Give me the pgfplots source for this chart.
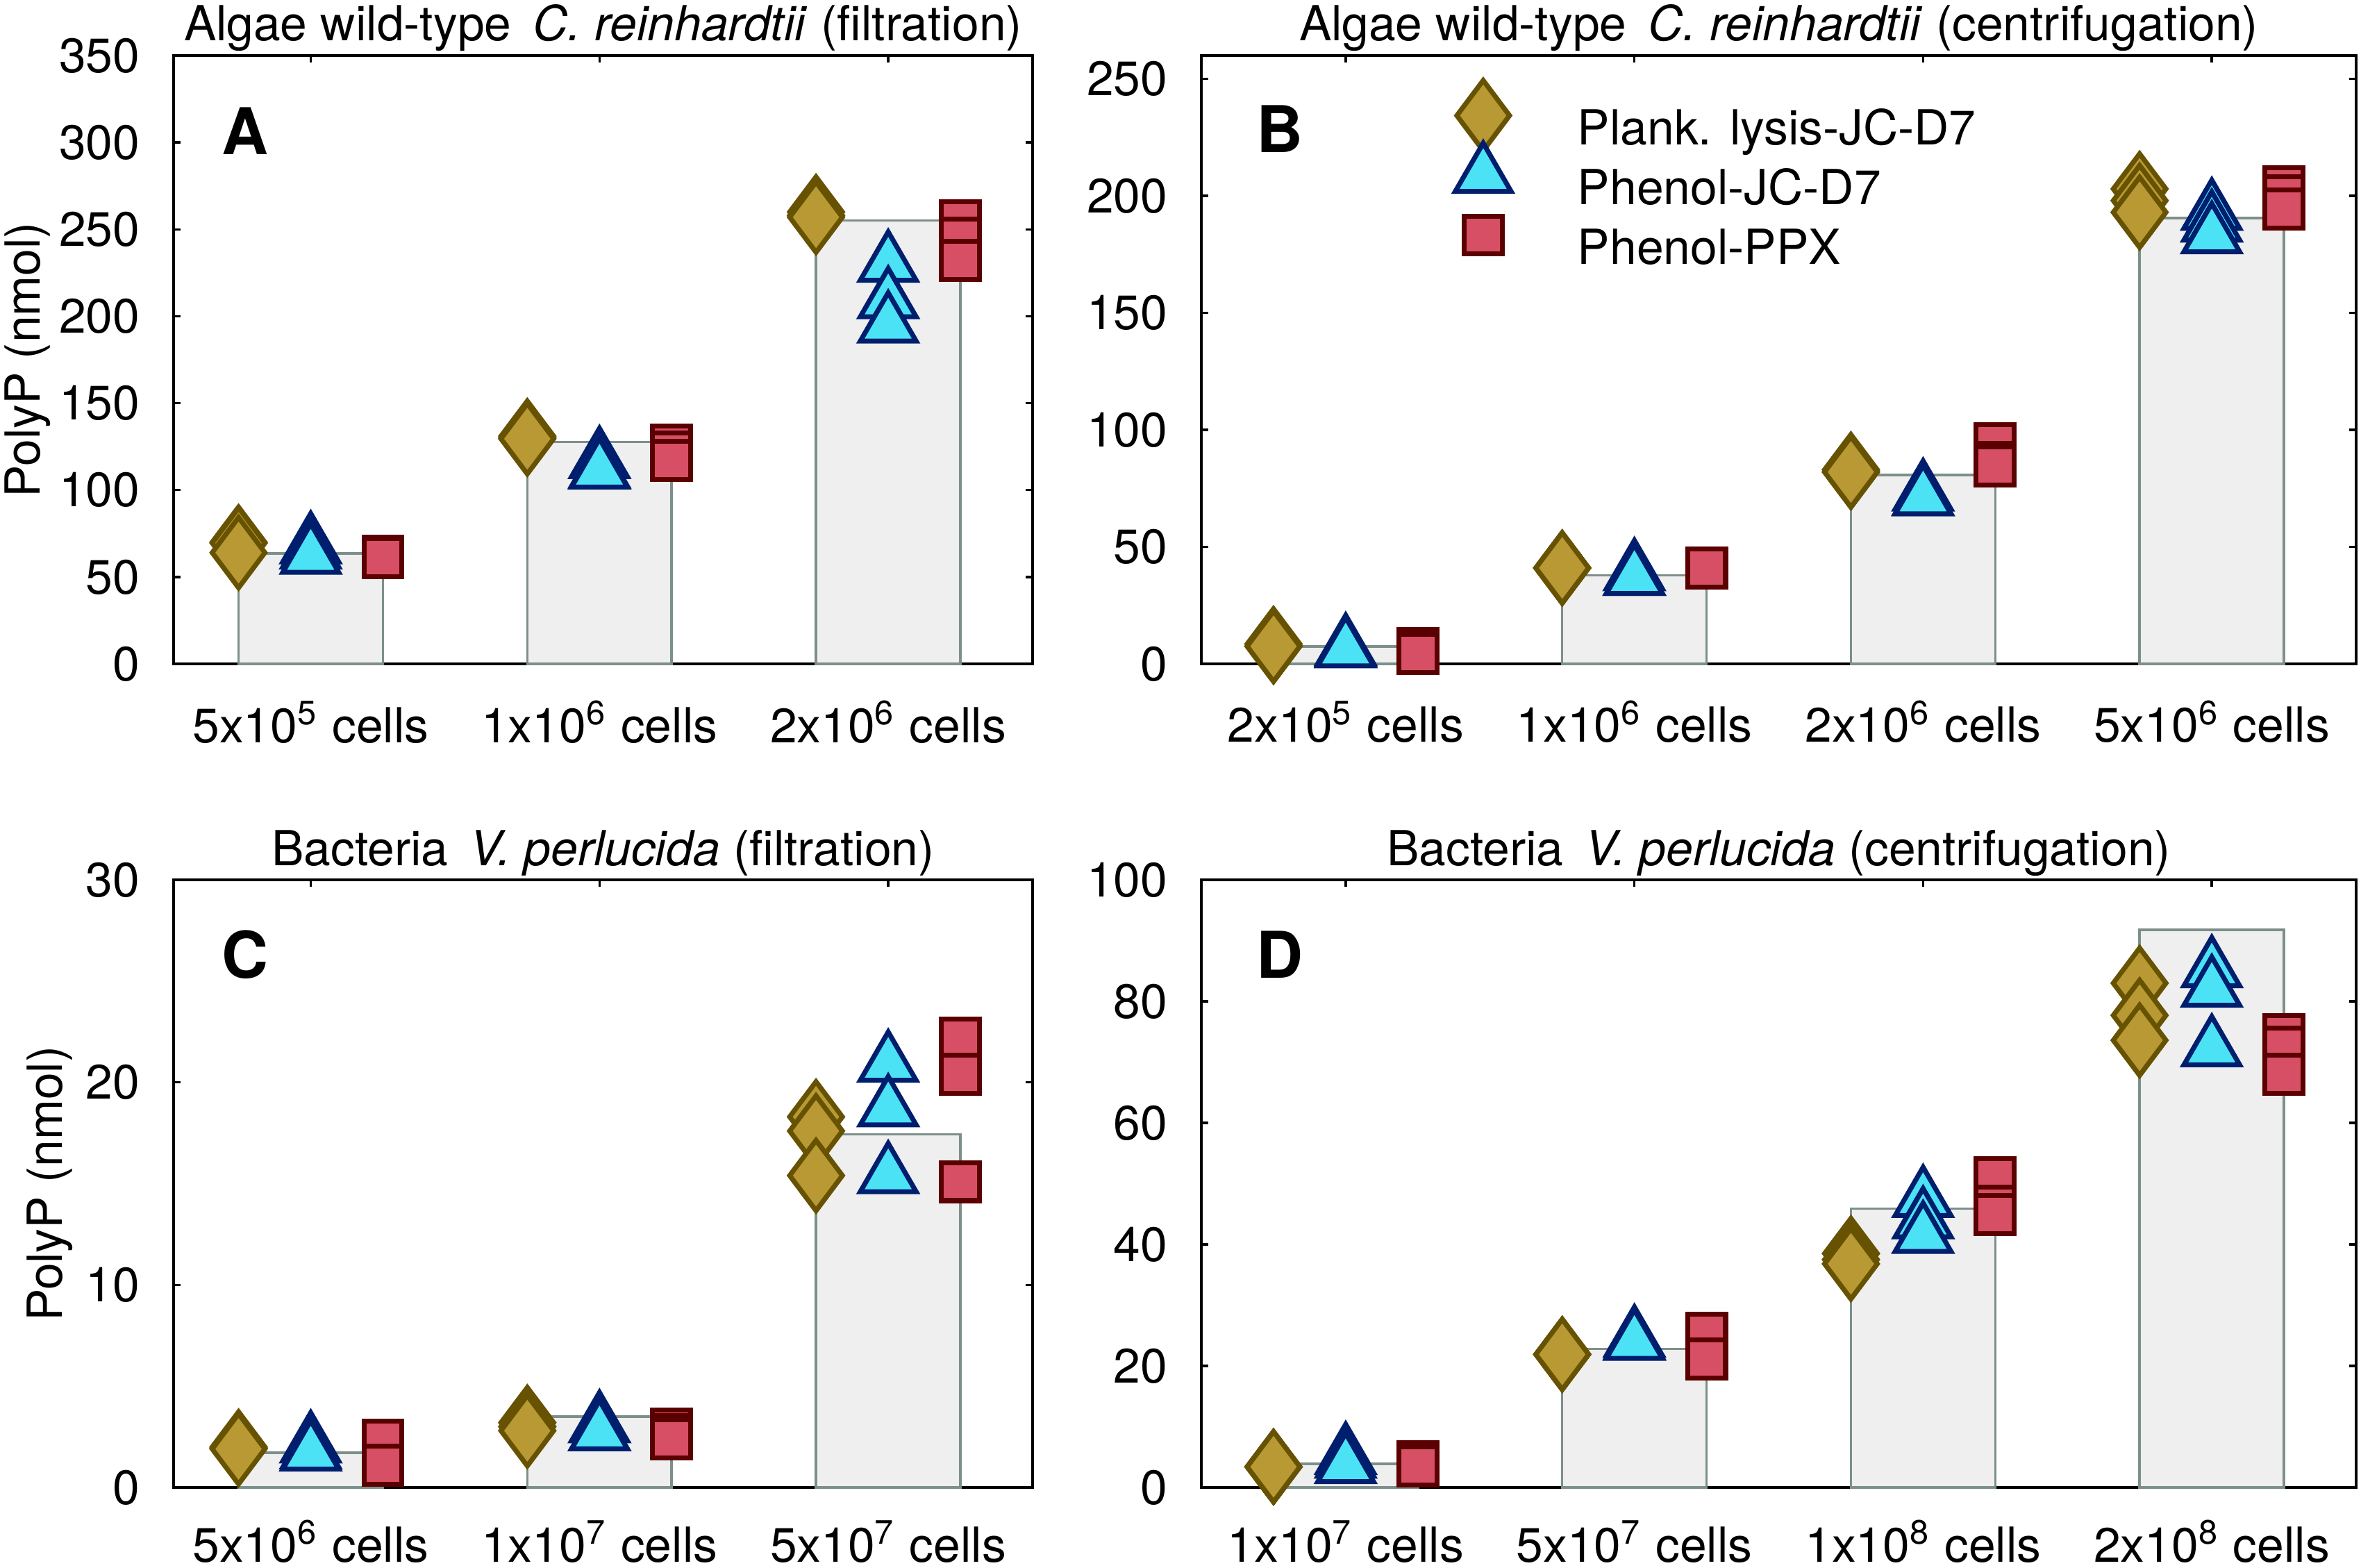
\documentclass[border=0pt]{standalone}
\usepackage{fontspec}
\setmainfont{TeX Gyre Heros}
\usepackage{pgfplots}
\pgfplotsset{compat=1.18}
\definecolor{dfill}{RGB}{184,153,52}
\definecolor{dedge}{RGB}{102,82,0}
\definecolor{tfill}{RGB}{75,226,245}
\definecolor{tedge}{RGB}{0,30,110}
\definecolor{sfill}{RGB}{214,79,101}
\definecolor{sedge}{RGB}{90,0,0}
\definecolor{barfill}{RGB}{239,239,239}
\definecolor{baredge}{RGB}{125,143,138}
\newcommand{\fs}{\fontsize{9.9}{11.9}\selectfont}
\tikzset{pl/.style={font=\bfseries\fontsize{13.2}{14}\selectfont}}
\pgfplotsset{
 panel/.style={
  scale only axis, clip=false, ymin=0,
  tick align=inside, major tick length=0.05cm,
  axis line style={line width=0.6pt},
  every tick/.style={black, line width=0.5pt},
  tick label style={font=\fs},
  /pgf/number format/assume math mode=true,
  yticklabel style={xshift=-0.12cm},
  xticklabel style={anchor=base, yshift=-0.565cm},
  every axis title/.style={font=\fs, at={(0.5,1)}, anchor=base, yshift=0.105cm},
 },
 dia/.style={only marks, mark=diamond*, mark size=7.2pt, mark options={fill=dfill, draw=dedge, line width=1pt}},
 tri/.style={only marks, mark=triangle*, mark size=6.6pt, mark options={fill=tfill, draw=tedge, line width=1pt}},
 sq/.style={only marks, mark=square*, mark size=3.9pt, mark options={fill=sfill, draw=sedge, line width=1pt}},
 bars/.style={ybar, bar width=0.5, fill=barfill, draw=baredge, line width=0.5pt, forget plot},
}
\begin{document}
\begin{tikzpicture}
\path[use as bounding box] (0,0) rectangle (17,-11.29);
% ---------- A ----------
\begin{axis}[panel, at={(1.25cm,-0.40cm)}, anchor=north west,
  width=6.185cm, height=4.38cm, xmin=0.525, xmax=3.5, ymax=350,
  xtick={1,2,3}, ytick={0,50,...,350},
  xticklabels={5x10\textsuperscript{5} cells, 1x10\textsuperscript{6} cells, 2x10\textsuperscript{6} cells},
  title={Algae wild-type\ \,\textit{C. reinhardtii} (filtration)},
  ylabel={PolyP (nmol)},
  every axis y label/.style={at={(axis description cs:-0.170,0.5)}, rotate=90, anchor=center, font=\fs}]
\addplot[bars] coordinates {(1,63.6) (2,127.6) (3,255.2)};
\addplot[dia] coordinates {(0.75,70) (0.75,69.5) (0.75,64) (1.75,131) (1.75,130) (1.75,129.5) (2.75,260) (2.75,258) (2.75,257)};
\addplot[tri] coordinates {(1,68) (1,65) (1,62) (2,117) (2,111.5) (2,111) (3,230) (3,209) (3,195)};
\addplot[sq] coordinates {(1.25,62) (1.25,61) (1.25,61) (2.25,126) (2.25,122) (2.25,117) (3.25,255) (3.25,245) (3.25,232)};
\node[pl] at (axis description cs:0.083,0.876) {A};
\end{axis}
% ---------- B ----------
\begin{axis}[panel, at={(8.65cm,-0.40cm)}, anchor=north west,
  width=8.315cm, height=4.38cm, xmin=0.5, xmax=4.5, ymax=260,
  xtick={1,2,3,4}, ytick={0,50,...,250},
  xticklabels={2x10\textsuperscript{5} cells, 1x10\textsuperscript{6} cells, 2x10\textsuperscript{6} cells, 5x10\textsuperscript{6} cells},
  title={Algae wild-type\ \,\textit{C. reinhardtii} (centrifugation)},
  legend style={draw=none, fill=none, at={(axis description cs:0.208,0.931)}, anchor=north west,
    inner sep=0pt, outer sep=0pt, row sep=0.02cm,
    nodes={inner sep=0pt, text height=0.25cm, text depth=0.07cm, font=\fs}},
  legend cell align=left,
  legend image code/.code={\path[draw=none, fill=none] (0cm,-0.07cm) rectangle (0.98cm,0.25cm);
    \draw[overlay, mark repeat=2, mark phase=2, #1] plot coordinates {(0cm,0.12cm) (0.3cm,0.12cm) (0.6cm,0.12cm)};}]
\addplot[bars] coordinates {(1,7.4) (2,37.9) (3,80.7) (4,190.5)};
\addplot[dia] coordinates {(0.75,8.5) (0.75,7.5) (0.75,7.5) (1.75,41) (1.75,41) (1.75,41) (2.75,83) (2.75,82) (2.75,82) (3.75,203) (3.75,198) (3.75,193)};
\addlegendentry{Plank. lysis-JC-D7}
\addplot[tri] coordinates {(1,7) (1,6.5) (1,6) (2,39) (2,37) (2,37) (3,73) (3,71) (3,71) (4,193) (4,188) (4,183)};
\addlegendentry{Phenol-JC-D7}
\addplot[sq] coordinates {(1.25,6.5) (1.25,5) (1.25,4.5) (2.25,41) (2.25,41) (2.25,41) (3.25,94) (3.25,86) (3.25,84.5) (4.25,204) (4.25,200) (4.25,194.5)};
\addlegendentry{Phenol-PPX}
\node[pl] at (axis description cs:0.068,0.879) {B};
\end{axis}
% ---------- C ----------
\begin{axis}[panel, at={(1.25cm,-6.335cm)}, anchor=north west,
  width=6.185cm, height=4.375cm, xmin=0.525, xmax=3.5, ymax=30,
  xtick={1,2,3}, ytick={0,10,20,30},
  xticklabel style={yshift=0.03cm},
  xticklabels={5x10\textsuperscript{6} cells, 1x10\textsuperscript{7} cells, 5x10\textsuperscript{7} cells},
  title={Bacteria\ \,\textit{V. perlucida} (filtration)},
  ylabel={PolyP (nmol)},
  every axis y label/.style={at={(axis description cs:-0.144,0.5)}, rotate=90, anchor=center, font=\fs}]
\addplot[bars] coordinates {(1,1.72) (2,3.49) (3,17.43)};
\addplot[dia] coordinates {(0.75,2.0) (0.75,1.95) (0.75,1.9) (1.75,3.2) (1.75,3.0) (1.75,2.8) (2.75,18.3) (2.75,17.6) (2.75,15.4)};
\addplot[tri] coordinates {(1,2.1) (1,1.8) (1,1.7) (2,3.1) (2,2.7) (2,2.7) (3,20.9) (3,18.7) (3,15.4)};
\addplot[sq] coordinates {(1.25,2.35) (1.25,1.1) (1.25,1.1) (2.25,2.9) (2.25,2.6) (2.25,2.4) (3.25,22.2) (3.25,20.4) (3.25,15.1)};
\node[pl] at (axis description cs:0.083,0.877) {C};
\end{axis}
% ---------- D ----------
\begin{axis}[panel, at={(8.65cm,-6.335cm)}, anchor=north west,
  width=8.315cm, height=4.375cm, xmin=0.5, xmax=4.5, ymax=100,
  xtick={1,2,3,4}, ytick={0,20,...,100},
  xticklabel style={yshift=0.03cm},
  xticklabels={1x10\textsuperscript{7} cells, 5x10\textsuperscript{7} cells, 1x10\textsuperscript{8} cells, 2x10\textsuperscript{8} cells},
  title={Bacteria\ \,\textit{V. perlucida} (centrifugation)}]
\addplot[bars] coordinates {(1,3.9) (2,22.8) (3,45.9) (4,91.8)};
\addplot[dia] coordinates {(0.75,3.4) (0.75,3.4) (0.75,3.4) (1.75,21.9) (1.75,21.9) (1.75,21.9) (2.75,38.5) (2.75,37.5) (2.75,36.8) (3.75,83) (3.75,77.7) (3.75,73.6)};
\addplot[tri] coordinates {(1,5.1) (1,4.5) (1,3.6) (2,24.4) (2,24) (2,23.9) (3,47.4) (3,43.9) (3,41.5) (4,85.2) (4,82) (4,72.2)};
\addplot[sq] coordinates {(1.25,4.2) (1.25,3.6) (1.25,3.5) (2.25,25.4) (2.25,21.1) (2.25,21.1) (3.25,51) (3.25,46.3) (3.25,44.9) (4.25,74.5) (4.25,72.5) (4.25,68)};
\node[pl] at (axis description cs:0.068,0.877) {D};
\end{axis}
\end{tikzpicture}
\end{document}
